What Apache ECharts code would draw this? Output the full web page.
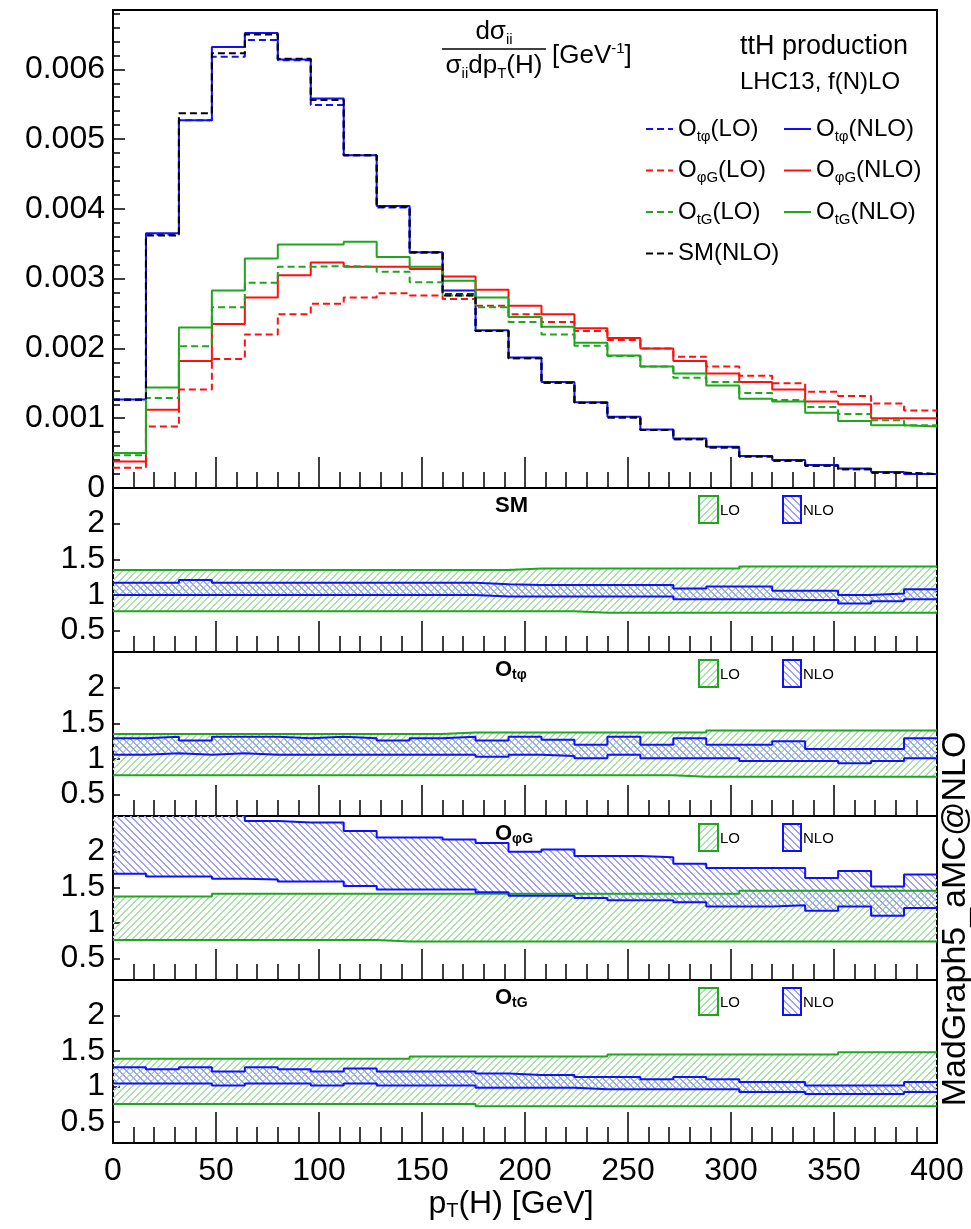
<!DOCTYPE html>
<html>
<head>
<meta charset="utf-8">
<script src="https://cdn.jsdelivr.net/npm/echarts@6/dist/echarts.min.js"></script>
<style>
html, body { margin: 0; padding: 0; background: #fff; }
#chart { width: 971px; height: 1229px; }
</style>
</head>
<body>
<div id="chart"></div>
<script>
var FONT = 'Liberation Sans, Arial, sans-serif';

// bin edges of pT(H) [GeV]
var edges = [0, 16, 32, 48, 64, 80, 96, 112, 128, 144, 160, 176, 192, 208, 224, 240, 256, 272, 288, 304, 320, 336, 352, 368, 384, 400];

// top panel: normalised distributions
var smNLO  = [0.00127, 0.00362, 0.00537, 0.00623, 0.00650, 0.00615, 0.00556, 0.00477, 0.00403, 0.00338, 0.00276, 0.00225, 0.00186, 0.00151, 0.00122, 0.00101, 0.00083, 0.00070, 0.00058, 0.00045, 0.00039, 0.00032, 0.00027, 0.00022, 0.00020];
var otpNLO = [0.00127, 0.00365, 0.00527, 0.00632, 0.00652, 0.00614, 0.00558, 0.00477, 0.00404, 0.00338, 0.00283, 0.00226, 0.00187, 0.00152, 0.00123, 0.00102, 0.00084, 0.00071, 0.00059, 0.00046, 0.00040, 0.00033, 0.00028, 0.00023, 0.00020];
var otpLO  = [0.00126, 0.00363, 0.00527, 0.00618, 0.00642, 0.00613, 0.00549, 0.00477, 0.00402, 0.00337, 0.00278, 0.00225, 0.00186, 0.00151, 0.00122, 0.00101, 0.00083, 0.00070, 0.00058, 0.00045, 0.00039, 0.00032, 0.00027, 0.00022, 0.00020];
var pgNLO  = [0.00038, 0.00112, 0.00182, 0.00235, 0.00273, 0.00305, 0.00323, 0.00317, 0.00317, 0.00314, 0.00303, 0.00284, 0.00261, 0.00249, 0.00229, 0.00215, 0.00200, 0.00182, 0.00164, 0.00152, 0.00141, 0.00124, 0.00120, 0.00100, 0.00100];
var pgLO   = [0.00029, 0.00088, 0.00141, 0.00185, 0.00220, 0.00249, 0.00264, 0.00273, 0.00279, 0.00276, 0.00271, 0.00261, 0.00249, 0.00238, 0.00225, 0.00212, 0.00200, 0.00188, 0.00174, 0.00161, 0.00150, 0.00138, 0.00132, 0.00121, 0.00111];
var tgNLO  = [0.00050, 0.00144, 0.00230, 0.00283, 0.00329, 0.00349, 0.00349, 0.00353, 0.00331, 0.00317, 0.00297, 0.00273, 0.00245, 0.00231, 0.00208, 0.00190, 0.00174, 0.00164, 0.00147, 0.00128, 0.00124, 0.00108, 0.00096, 0.00090, 0.00088];
var tgLO   = [0.00047, 0.00129, 0.00203, 0.00259, 0.00294, 0.00317, 0.00318, 0.00317, 0.00310, 0.00295, 0.00276, 0.00259, 0.00238, 0.00220, 0.00204, 0.00189, 0.00174, 0.00158, 0.00152, 0.00136, 0.00126, 0.00116, 0.00106, 0.00097, 0.00090];

// ratio panels: scale uncertainty bands (low / high edges)
var smLoLow   = [0.77, 0.77, 0.77, 0.77, 0.77, 0.77, 0.77, 0.77, 0.77, 0.77, 0.77, 0.77, 0.77, 0.77, 0.75, 0.75, 0.75, 0.75, 0.75, 0.75, 0.75, 0.75, 0.75, 0.75, 0.75];
var smLoHigh  = [1.35, 1.35, 1.35, 1.35, 1.35, 1.35, 1.35, 1.35, 1.35, 1.35, 1.35, 1.35, 1.37, 1.37, 1.37, 1.37, 1.37, 1.37, 1.37, 1.40, 1.40, 1.40, 1.40, 1.40, 1.40];
var smNloLow  = [1.00, 1.00, 1.00, 1.00, 1.00, 1.00, 1.00, 1.00, 1.00, 1.00, 1.00, 0.98, 0.98, 0.98, 0.98, 0.98, 0.98, 0.94, 0.94, 0.94, 0.93, 0.93, 0.88, 0.91, 0.94];
var smNloHigh = [1.17, 1.17, 1.21, 1.17, 1.17, 1.17, 1.17, 1.17, 1.17, 1.17, 1.17, 1.15, 1.14, 1.14, 1.14, 1.14, 1.14, 1.09, 1.12, 1.12, 1.06, 1.06, 1.00, 1.02, 1.08];

var otpLoLow   = [0.77, 0.77, 0.77, 0.77, 0.77, 0.77, 0.77, 0.77, 0.77, 0.77, 0.77, 0.77, 0.77, 0.77, 0.77, 0.77, 0.77, 0.75, 0.75, 0.75, 0.75, 0.75, 0.75, 0.75, 0.75];
var otpLoHigh  = [1.35, 1.35, 1.35, 1.35, 1.35, 1.35, 1.35, 1.35, 1.35, 1.35, 1.37, 1.37, 1.37, 1.37, 1.37, 1.37, 1.37, 1.37, 1.40, 1.40, 1.40, 1.40, 1.40, 1.40, 1.40];
var otpNloLow  = [1.06, 1.08, 1.06, 1.08, 1.06, 1.06, 1.06, 1.06, 1.06, 1.06, 1.06, 1.03, 1.06, 1.04, 1.01, 1.06, 1.01, 1.01, 1.01, 0.97, 0.97, 0.97, 0.94, 0.97, 1.01];
var otpNloHigh = [1.29, 1.31, 1.26, 1.31, 1.31, 1.29, 1.31, 1.29, 1.26, 1.29, 1.31, 1.26, 1.31, 1.27, 1.20, 1.31, 1.20, 1.29, 1.20, 1.20, 1.25, 1.14, 1.14, 1.14, 1.29];

var pgLoLow   = [0.76, 0.76, 0.76, 0.76, 0.76, 0.76, 0.76, 0.76, 0.74, 0.74, 0.74, 0.74, 0.74, 0.74, 0.74, 0.74, 0.74, 0.74, 0.74, 0.74, 0.74, 0.74, 0.74, 0.74, 0.74];
var pgLoHigh  = [1.37, 1.37, 1.37, 1.41, 1.41, 1.41, 1.41, 1.41, 1.41, 1.41, 1.41, 1.41, 1.41, 1.41, 1.41, 1.41, 1.41, 1.41, 1.41, 1.45, 1.45, 1.45, 1.45, 1.45, 1.45];
var pgNloLow  = [1.69, 1.65, 1.65, 1.62, 1.61, 1.58, 1.58, 1.52, 1.47, 1.47, 1.47, 1.43, 1.38, 1.38, 1.35, 1.32, 1.32, 1.29, 1.23, 1.23, 1.25, 1.17, 1.23, 1.10, 1.21];
var pgNloHigh = [2.70, 2.70, 2.65, 2.58, 2.43, 2.41, 2.41, 2.29, 2.20, 2.20, 2.17, 2.12, 2.00, 2.03, 1.94, 1.94, 1.92, 1.83, 1.77, 1.77, 1.77, 1.63, 1.73, 1.51, 1.68];

var tgLoLow   = [0.75, 0.75, 0.75, 0.75, 0.75, 0.75, 0.75, 0.75, 0.75, 0.75, 0.75, 0.72, 0.72, 0.72, 0.72, 0.72, 0.72, 0.72, 0.72, 0.72, 0.72, 0.72, 0.72, 0.72, 0.72];
var tgLoHigh  = [1.39, 1.39, 1.39, 1.39, 1.39, 1.39, 1.39, 1.39, 1.39, 1.42, 1.42, 1.42, 1.42, 1.42, 1.42, 1.45, 1.45, 1.45, 1.45, 1.45, 1.45, 1.45, 1.48, 1.48, 1.48];
var tgNloLow  = [1.04, 1.04, 1.04, 1.01, 1.04, 1.04, 1.01, 1.04, 1.01, 1.01, 1.01, 0.98, 0.98, 0.98, 0.96, 0.96, 0.96, 0.96, 0.96, 0.92, 0.92, 0.89, 0.89, 0.89, 0.92];
var tgNloHigh = [1.27, 1.24, 1.27, 1.21, 1.27, 1.24, 1.21, 1.25, 1.21, 1.21, 1.21, 1.18, 1.16, 1.16, 1.13, 1.13, 1.10, 1.13, 1.10, 1.06, 1.06, 1.01, 1.01, 1.01, 1.06];

var ratioTicks = [0.5, 1, 1.5, 2];

var BLUE = '#1010ff', RED = '#ff1010', GREEN = '#1fa61f', BLACK = '#000';

// hatch tiles: forward "///" for LO, backward "\\\" for NLO
function hatch(rgb, back, thick) {
    var n = 7;
    var c = document.createElement('canvas');
    c.width = n; c.height = n;
    var g = c.getContext('2d');
    var img = g.createImageData(n, n);
    for (var i = 0; i < n; i++) {
        var y = back ? i : n - 1 - i;
        for (var k = 0; k < thick; k++) {
            var x = (i + k) % n;
            var p = (y * n + x) * 4;
            img.data[p] = rgb[0]; img.data[p + 1] = rgb[1]; img.data[p + 2] = rgb[2]; img.data[p + 3] = 255;
        }
    }
    g.putImageData(img, 0, 0);
    return { image: c, repeat: 'repeat' };
}
var loFill = hatch([168, 226, 168], false, 2);
var nloFill = hatch([160, 160, 255], true, 2);

function stepData(vals) {
    var d = vals.map(function (v, i) { return [edges[i], v]; });
    d.push([edges[vals.length], vals[vals.length - 1]]);
    return d;
}

function histLine(name, vals, color, dashed, xi, yi) {
    return {
        type: 'line', name: name, xAxisIndex: xi, yAxisIndex: yi,
        data: stepData(vals), step: 'end', symbol: 'none', showSymbol: false,
        lineStyle: { color: color, width: 2, type: dashed ? [7, 4] : 'solid' },
        itemStyle: { color: color },
        silent: true, clip: true, animation: false
    };
}

function band(lo, hi, fill, xi, yi) {
    var rows = lo.map(function (v, i) { return [edges[i], edges[i + 1], v, hi[i]]; });
    return {
        type: 'custom', xAxisIndex: xi, yAxisIndex: yi, data: rows,
        clip: true, silent: true, animation: false,
        renderItem: function (params, api) {
            var a = api.coord([api.value(0), api.value(3)]);
            var b = api.coord([api.value(1), api.value(2)]);
            return {
                type: 'rect',
                shape: { x: a[0], y: a[1], width: b[0] - a[0], height: b[1] - a[1] },
                style: { fill: fill, stroke: null }
            };
        }
    };
}

var grids = [
    { left: 113, right: 34, top: 10, height: 478 },
    { left: 113, right: 34, top: 488, height: 164 },
    { left: 113, right: 34, top: 652, height: 164 },
    { left: 113, right: 34, top: 816, height: 164 },
    { left: 113, right: 34, top: 980, height: 163 }
].map(function (g) {
    g.show = true; g.borderColor = '#000'; g.borderWidth = 2;
    g.containLabel = false; g.outerBoundsMode = 'none';
    return g;
});

var xAxes = grids.map(function (g, i) {
    var last = i === grids.length - 1;
    return {
        gridIndex: i, type: 'value', min: 0, max: 400, interval: 50,
        axisLine: { show: true, lineStyle: { color: '#000', width: 2 } },
        axisTick: { show: true, inside: true, length: 31, lineStyle: { color: '#000', width: 1.5 } },
        minorTick: { show: true, splitNumber: 5, length: 16, lineStyle: { color: '#000', width: 1.5 } },
        axisLabel: { show: last, fontSize: 32, fontFamily: FONT, color: '#000', margin: 12 },
        splitLine: { show: false },
        name: last ? '{a|p}{s|T}{a|(H) [GeV]}' : '',
        nameLocation: 'middle', nameGap: 44,
        nameTextStyle: {
            padding: [0, 28, 0, 0],
            rich: {
                a: { fontSize: 32, fontFamily: FONT, color: '#000', lineHeight: 34 },
                s: { fontSize: 20, fontFamily: FONT, color: '#000', lineHeight: 12, verticalAlign: 'bottom' }
            }
        }
    };
});

var yAxes = [
    {
        gridIndex: 0, type: 'value', min: 0, max: 0.00685, interval: 0.001,
        axisLine: { show: true, lineStyle: { color: '#000', width: 2 } },
        axisTick: { show: true, inside: true, length: 12, lineStyle: { color: '#000', width: 1.5 } },
        axisLabel: {
            fontSize: 32, fontFamily: FONT, color: '#000', margin: 8, showMaxLabel: false,
            formatter: function (v) { return v === 0 ? '0' : v.toFixed(3); }
        },
        splitLine: { show: false }
    },
    {
        gridIndex: 0, type: 'value', min: 0, max: 0.00685, interval: 0.0002, position: 'left',
        axisLine: { show: false },
        axisTick: { show: true, inside: true, length: 7, lineStyle: { color: '#000', width: 1.5 } },
        axisLabel: { show: false },
        splitLine: { show: false }
    }
];
for (var gi = 1; gi < 5; gi++) {
    yAxes.push({
        gridIndex: gi, type: 'value', min: 0.2, max: 2.5,
        axisLine: { show: true, lineStyle: { color: '#000', width: 2 } },
        axisTick: { show: true, inside: true, length: 7, customValues: ratioTicks, lineStyle: { color: '#000', width: 1.5 } },
        axisLabel: { customValues: ratioTicks, fontSize: 32, fontFamily: FONT, color: '#000', margin: 8 },
        splitLine: { show: false }
    });
}

var series = [
    histLine('O_tφ(NLO)', otpNLO, BLUE, false, 0, 0),
    histLine('O_tφ(LO)', otpLO, BLUE, true, 0, 0),
    histLine('O_φG(NLO)', pgNLO, RED, false, 0, 0),
    histLine('O_φG(LO)', pgLO, RED, true, 0, 0),
    histLine('O_tG(NLO)', tgNLO, GREEN, false, 0, 0),
    histLine('O_tG(LO)', tgLO, GREEN, true, 0, 0),
    histLine('SM(NLO)', smNLO, BLACK, true, 0, 0)
];

var panels = [
    [smLoLow, smLoHigh, smNloLow, smNloHigh],
    [otpLoLow, otpLoHigh, otpNloLow, otpNloHigh],
    [pgLoLow, pgLoHigh, pgNloLow, pgNloHigh],
    [tgLoLow, tgLoHigh, tgNloLow, tgNloHigh]
];
panels.forEach(function (p, k) {
    var xi = k + 1, yi = k + 2;
    series.push(band(p[0], p[1], loFill, xi, yi));
    series.push(band(p[2], p[3], nloFill, xi, yi));
    series.push(histLine('lo-' + k + 'a', p[0], GREEN, false, xi, yi));
    series.push(histLine('lo-' + k + 'b', p[1], GREEN, false, xi, yi));
    series.push(histLine('nlo-' + k + 'a', p[2], BLUE, false, xi, yi));
    series.push(histLine('nlo-' + k + 'b', p[3], BLUE, false, xi, yi));
});

function legendFmt(name) {
    var m = name.match(/^O_(.+?)(\(.*\))$/);
    if (m) return '{a|O}{s|' + m[1] + '}{a|' + m[2] + '}';
    return '{a|' + name + '}';
}
var legendText = {
    color: '#000', fontFamily: FONT, fontSize: 24,
    rich: {
        a: { fontSize: 24, fontFamily: FONT, color: '#000', lineHeight: 30 },
        s: { fontSize: 15, fontFamily: FONT, color: '#000', lineHeight: 10, verticalAlign: 'bottom' }
    }
};
function legendAt(left, names) {
    return {
        left: left, top: 117, orient: 'vertical', padding: 0,
        itemWidth: 27, itemHeight: 14, itemGap: 14.5,
        selectedMode: false, data: names, formatter: legendFmt,
        itemStyle: { opacity: 0 },
        textStyle: legendText
    };
}

// panel labels and small LO / NLO keys
var panelTops = [488, 652, 816, 980];
var panelNames = [['SM', ''], ['O', 'tφ'], ['O', 'φG'], ['O', 'tG']];
var graphics = [];
panelTops.forEach(function (t, k) {
    var nm = panelNames[k];
    graphics.push({
        type: 'text', x: 495, y: t + 18,
        style: {
            text: nm[1] ? '{o|' + nm[0] + '}{s|' + nm[1] + '}' : '{o|' + nm[0] + '}',
            verticalAlign: 'middle', fill: '#000',
            rich: {
                o: { fontSize: 22, fontWeight: 'bold', fontFamily: FONT, fill: '#000', lineHeight: 24 },
                s: { fontSize: 14, fontWeight: 'bold', fontFamily: FONT, fill: '#000', lineHeight: 8, verticalAlign: 'bottom' }
            }
        }
    });
    graphics.push({ type: 'rect', shape: { x: 699, y: t + 8, width: 19, height: 27 }, style: { fill: loFill, stroke: GREEN, lineWidth: 2 } });
    graphics.push({ type: 'text', x: 720, y: t + 23, style: { text: 'LO', fontSize: 15, fontFamily: FONT, fill: '#000', verticalAlign: 'middle' } });
    graphics.push({ type: 'rect', shape: { x: 783, y: t + 8, width: 18, height: 27 }, style: { fill: nloFill, stroke: BLUE, lineWidth: 2 } });
    graphics.push({ type: 'text', x: 803, y: t + 23, style: { text: 'NLO', fontSize: 15, fontFamily: FONT, fill: '#000', verticalAlign: 'middle' } });
});

var sub = { fontSize: 15, fontFamily: FONT, fill: '#000', lineHeight: 10, verticalAlign: 'bottom' };
var big = { fontSize: 26, fontFamily: FONT, fill: '#000', lineHeight: 30 };
graphics.push(
    { type: 'text', x: 494, y: 32, style: { text: '{a|dσ}{s|ii}', align: 'center', verticalAlign: 'middle', fill: '#000', rich: { a: big, s: sub } } },
    { type: 'line', shape: { x1: 442, y1: 49, x2: 546, y2: 49 }, style: { stroke: '#000', lineWidth: 1.5 } },
    { type: 'text', x: 494, y: 66, style: { text: '{a|σ}{s|ii}{a|dp}{s|T}{a|(H)}', align: 'center', verticalAlign: 'middle', fill: '#000', rich: { a: big, s: sub } } },
    { type: 'text', x: 552, y: 56, style: { text: '{a|[GeV}{p|-1}{a|]}', verticalAlign: 'middle', fill: '#000', rich: { a: big, p: { fontSize: 15, fontFamily: FONT, fill: '#000', lineHeight: 12, verticalAlign: 'top' } } } },
    { type: 'text', x: 740, y: 47, style: { text: 'ttH production', fontSize: 27, fontFamily: FONT, fill: '#000', verticalAlign: 'middle' } },
    { type: 'text', x: 740, y: 82, style: { text: 'LHC13, f(N)LO', fontSize: 24, fontFamily: FONT, fill: '#000', verticalAlign: 'middle' } },
    { type: 'text', x: 956, y: 919, rotation: Math.PI / 2, style: { text: 'MadGraph5_aMC@NLO', fontSize: 34, fontFamily: FONT, fill: '#000', align: 'center', verticalAlign: 'middle' } }
);

var option = {
    animation: false,
    backgroundColor: '#fff',
    grid: grids,
    xAxis: xAxes,
    yAxis: yAxes,
    legend: [
        legendAt(645, ['O_tφ(LO)', 'O_φG(LO)', 'O_tG(LO)', 'SM(NLO)']),
        legendAt(783, ['O_tφ(NLO)', 'O_φG(NLO)', 'O_tG(NLO)'])
    ],
    series: series,
    graphic: graphics
};

var mychart = echarts.init(document.getElementById('chart'));
mychart.setOption(option);
</script>
</body>
</html>
